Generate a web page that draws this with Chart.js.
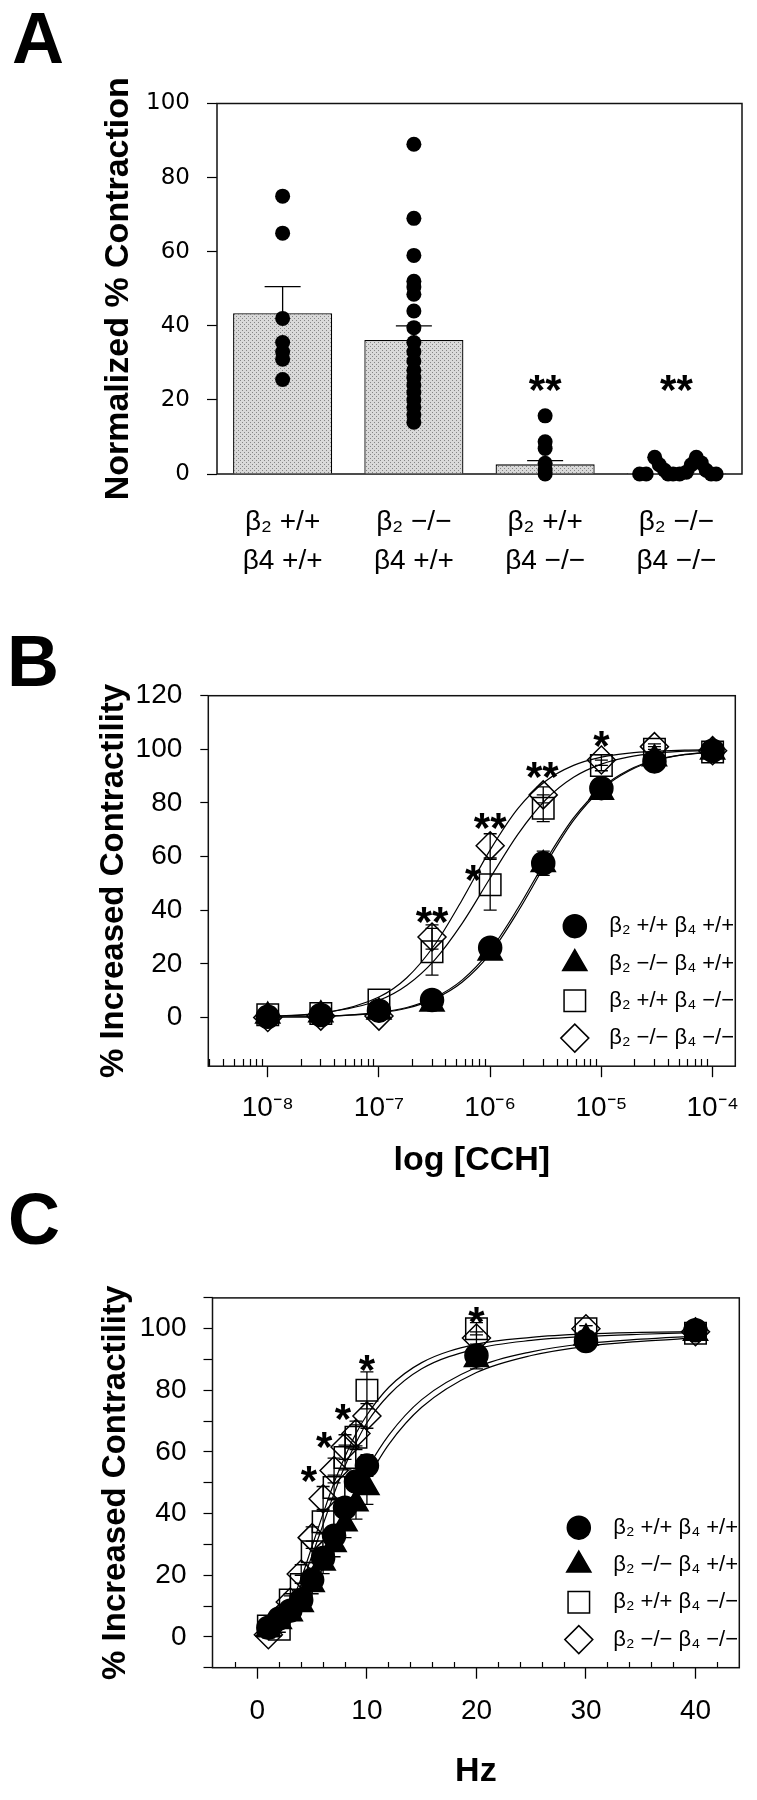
<!DOCTYPE html>
<html><head><meta charset="utf-8">
<script src="https://cdn.jsdelivr.net/npm/chart.js@4.4.0/dist/chart.umd.min.js"></script>
<style>
html,body{margin:0;padding:0;background:#fff;}
#wrap{position:relative;width:757px;height:1800px;overflow:hidden;background:#fff;}
canvas{position:absolute;left:0;}
.plabel{position:absolute;font:bold 72px "Liberation Sans",Arial,sans-serif;line-height:72px;color:#000;}
</style></head><body>
<div id="wrap">
<canvas id="cA" width="757" height="610" style="top:0"></canvas>
<canvas id="cB" width="757" height="590" style="top:610px"></canvas>
<canvas id="cC" width="757" height="600" style="top:1200px"></canvas>
<div class="plabel" style="top:2px;left:12px">A</div>
<div class="plabel" style="top:625px;left:7px">B</div>
<div class="plabel" style="top:1183px;left:8px">C</div>
</div>
<script>
// ---------- Panel A data ----------
const categoriesA = [['β₂ +/+', 'β4 +/+'], ['β₂ −/−', 'β4 +/+'], ['β₂ +/+', 'β4 −/−'], ['β₂ −/−', 'β4 −/−']];
const meanA = [43.4, 36.2, 2.6, 0.3];
const semA = [7.2, 3.8, 1.0, 0.2];
const dotsA1 = [75, 65, 42, 35.5, 33, 31, 25.5];
const dotsA2 = [89, 69, 59, 52, 50.5, 48.5, 44, 39.5, 35.5, 33, 30.5, 28, 26, 24, 22, 20, 18, 16, 14];
const dotsA3 = [15.7, 8.7, 6.9, 2.9, 1.1, 0];
const dotsA4 = [0, 0, 4.5, 2.5, 1, 0, 0, 0, 0.5, 2.5, 4.5, 3, 1, 0, 0];
const jitterA4 = [-0.28, -0.23, -0.165, -0.13, -0.09, -0.063, -0.025, 0.025, 0.076, 0.114, 0.152, 0.19, 0.227, 0.265, 0.303];
const catTicksA = [0, 1, 2, 3];
const yTicksA = [0, 20, 40, 60, 80, 100];
const starsA = [{x: 2, y: 25.4, t: '**'}, {x: 3, y: 25.4, t: '**'}];

// ---------- Panel B data ----------
const concB = [1e-8, 3e-8, 1e-7, 3e-7, 1e-6, 3e-6, 1e-5, 3e-5, 1e-4];
const circleB = [0.2, 0.9, 2.5, 6.5, 26, 57.5, 85.5, 95.5, 99.5];
const triangleB = [0.5, 1, 2, 5, 24, 57, 84, 96.5, 99];
const squareB = [1, 1.5, 6.5, 24.5, 49.5, 78, 94, 100, 99];
const diamondB = [0, 0.5, 0.5, 30, 64, 83, 96, 101, 99.5];
const semCircleB = [0, 0, 0, 1, 3, 4.5, 2, 1, 0.5];
const semTriangleB = [0, 0, 0, 1, 2, 3, 2, 1, 0.5];
const semSquareB = [0, 0, 0, 8.7, 9.5, 5, 2, 1, 0.5];
const semDiamondB = [0, 0, 0, 4.5, 4.5, 3, 2, 1, 0.5];
const curveXB = [1e-8, 3.16e-8, 1e-7, 1.78e-7, 3.16e-7, 5.62e-7, 1e-6, 1.78e-6, 3.16e-6, 5.62e-6, 1e-5, 1.78e-5, 3.16e-5, 5.62e-5, 1e-4];
const curveCircleB = [0.1, 0.4, 1.9, 3.7, 7.4, 14, 25, 40.8, 58.5, 74.4, 85.6, 92.4, 96.2, 98.1, 99.1];
const curveTriangleB = [0.1, 0.4, 1.7, 3.4, 6.9, 13.2, 23.8, 39.5, 57.2, 73.5, 85, 92, 96, 98, 99];
const curveSquareB = [0.4, 1.7, 6.4, 12, 21.4, 35.2, 52, 68.4, 81.2, 89.6, 94.5, 97.2, 98.6, 99.3, 99.6];
const curveDiamondB = [0.4, 1.6, 7.6, 14.8, 27, 44, 62.5, 78, 88.2, 94, 97.1, 98.6, 99.3, 99.7, 99.8];
const majorTicksB = [1e-8, 1e-7, 1e-6, 1e-5, 1e-4];
const tickLabelsB = ['10⁻⁸', '10⁻⁷', '10⁻⁶', '10⁻⁵', '10⁻⁴'];
const yTicksB = [0, 20, 40, 60, 80, 100, 120];
const starsB = [{x: 3e-7, y: 39.4, t: '**'}, {x: 7.05e-7, y: 55, t: '*'}, {x: 1e-6, y: 74.2, t: '**'}, {x: 2.94e-6, y: 93.5, t: '**'}, {x: 1e-5, y: 105, t: '*'}];

// ---------- Panel C data ----------
const freqC = [1, 2, 3, 4, 5, 6, 7, 8, 9, 10, 20, 30, 40];
const circleC = [3, 6, 8.5, 12, 18.5, 25.6, 32.8, 41.9, 50.4, 55.6, 91.3, 96, 99.5];
const triangleC = [2.5, 5, 7.5, 10.5, 17, 24, 30, 36.7, 43.2, 48.5, 90, 97, 98.5];
const squareC = [3.5, 2.5, 12, 17, 27.6, 37.4, 48.5, 58.2, 64.8, 80, 100, 100, 98.5];
const diamondC = [0.7, 6, 11.3, 20.4, 32.2, 44.8, 54, 61.6, 66, 71.7, 97, 100, 99];
const semCircleC = [1, 1, 1.5, 2, 2.5, 3, 3, 3, 3, 3.5, 2, 1, 0.5];
const semTriangleC = [1, 1, 1.5, 2, 3, 3.5, 4, 4.5, 5, 5.5, 3, 1, 0.5];
const semSquareC = [1, 1, 2, 3, 3.5, 4, 4, 4, 4, 6, 2, 1, 0.5];
const semDiamondC = [1, 1, 2, 3, 3.5, 4, 4, 4, 4, 4, 2, 1, 0.5];
const curveXC = [1, 2, 3, 4, 5, 6, 7, 8, 9, 10, 12, 15, 20, 25, 30, 35, 40];
const curveCircleC = [2.3, 3.7, 6.5, 11.5, 17.5, 25, 32.5, 40.5, 48, 54.5, 65.5, 77, 87.5, 92.5, 95.2, 96.6, 97.6];
const curveTriangleC = [2, 3.2, 5.6, 10, 15.5, 22.5, 29.5, 37, 44.5, 51, 62.5, 74.5, 85.8, 91.3, 94.3, 95.9, 97];
const curveSquareC = [2.2, 4, 9, 17, 26.5, 36.5, 46.5, 55.5, 63, 69.5, 78.5, 87, 93.5, 96.2, 97.5, 98.2, 98.7];
const curveDiamondC = [2.5, 5, 10.5, 19, 29.5, 40, 50, 58.5, 66, 72, 81, 89, 95, 97.2, 98.3, 98.8, 99.1];
const majorTicksC = [0, 10, 20, 30, 40];
const tickLabelsC = ['0', '10', '20', '30', '40'];
const yTicksC = [-10, 0, 10, 20, 30, 40, 50, 60, 70, 80, 90, 100, 110];
const yTickLabelsC = ['', '0', '', '20', '', '40', '', '60', '', '80', '', '100', ''];
const starsC = [{x: 4.7, y: 53.8, t: '*'}, {x: 6.1, y: 65, t: '*'}, {x: 7.8, y: 74.1, t: '*'}, {x: 10, y: 90, t: '*'}, {x: 20, y: 105.5, t: '*'}];

const legendLabels = ['β₂ +/+ β₄ +/+', 'β₂ −/− β₄ +/+', 'β₂ +/+ β₄ −/−', 'β₂ −/− β₄ −/−'];

// ---------- styles ----------
const FONT = '"Liberation Sans", Arial, Helvetica, sans-serif';
Chart.defaults.color = '#000';
Chart.defaults.font.family = FONT;
Chart.defaults.animation = false;
const CLEAR = 'rgba(0,0,0,0)';
const MARKS = [
  {style: 'circle', r: 11.5, fill: '#000'},
  {style: 'triangle', r: 14, fill: '#000'},
  {style: 'rect', r: 15.2, fill: CLEAR},
  {style: 'rectRot', r: 14, fill: CLEAR}
];

// ---------- plugins ----------
const framePlugin = {id: 'frame', beforeDatasetsDraw(chart) {
  const {ctx, chartArea: a} = chart;
  ctx.save(); ctx.strokeStyle = '#111'; ctx.lineWidth = 1.5;
  ctx.strokeRect(a.left, a.top, a.right - a.left, a.bottom - a.top);
  ctx.restore();
}};
const errPlugin = {id: 'errbars', beforeDatasetsDraw(chart) {
  const ctx = chart.ctx;
  chart.data.datasets.forEach((ds, i) => {
    if (!ds.sem) return;
    const meta = chart.getDatasetMeta(i);
    const ys = chart.scales[meta.yAxisID];
    ctx.save(); ctx.strokeStyle = '#000'; ctx.lineWidth = 1.3;
    meta.data.forEach((el, j) => {
      const s = ds.sem[j]; if (!s) return;
      const raw = ds.data[j]; const v = (typeof raw === 'object') ? raw.y : raw;
      const x = el.x;
      const yTop = ys.getPixelForValue(v + s);
      const yBot = ds.upOnly ? ys.getPixelForValue(v) : ys.getPixelForValue(v - s);
      const hw = (ds.capWidth || 13) / 2;
      ctx.beginPath();
      ctx.moveTo(x, yTop); ctx.lineTo(x, yBot);
      ctx.moveTo(x - hw, yTop); ctx.lineTo(x + hw, yTop);
      if (!ds.upOnly) { ctx.moveTo(x - hw, yBot); ctx.lineTo(x + hw, yBot); }
      ctx.stroke();
    });
    ctx.restore();
  });
}};
const starPlugin = {id: 'stars', afterDatasetsDraw(chart, args, opts) {
  if (!opts.items) return;
  const ctx = chart.ctx;
  const xs = chart.scales.x, ys = chart.scales.y;
  ctx.save(); ctx.fillStyle = '#000';
  ctx.font = 'bold 42px ' + FONT; ctx.textAlign = 'center'; ctx.textBaseline = 'alphabetic';
  opts.items.forEach(it => {
    ctx.fillText(it.t, xs.getPixelForValue(it.x), ys.getPixelForValue(it.y) + 24);
  });
  ctx.restore();
}};
const legendPlugin = {id: 'markLegend', afterDraw(chart, args, opts) {
  if (!opts.labels) return;
  const {ctx, chartArea: a} = chart;
  opts.labels.forEach((lab, i) => {
    const m = MARKS[i];
    const y = a.bottom + opts.firstRow + i * opts.rowGap;
    ctx.save();
    ctx.fillStyle = m.fill; ctx.strokeStyle = '#000'; ctx.lineWidth = 1.5;
    Chart.helpers.drawPoint(ctx, {pointStyle: m.style, radius: m.r, rotation: 0, borderWidth: 1.5}, a.right + opts.markerDx, y);
    ctx.fillStyle = '#000'; ctx.font = opts.font; ctx.textAlign = 'left'; ctx.textBaseline = 'middle';
    ctx.fillText(lab, a.right + opts.textDx, y);
    ctx.restore();
  });
}};

// ---------- Panel A ----------
const pat = document.createElement('canvas'); pat.width = 4; pat.height = 4;
const pctx = pat.getContext('2d');
pctx.fillStyle = '#d9d9d9'; pctx.fillRect(0, 0, 4, 4);
pctx.fillStyle = '#858585'; pctx.fillRect(0, 0, 1, 1); pctx.fillRect(2, 2, 1, 1);
const ctxA = document.getElementById('cA').getContext('2d');
const stipple = ctxA.createPattern(pat, 'repeat');

const dotsA = [];
[dotsA1, dotsA2, dotsA3].forEach((arr, g) => arr.forEach(v => dotsA.push({x: g, y: v})));
dotsA4.forEach((v, k) => dotsA.push({x: 3 + jitterA4[k], y: v}));
const barsA = meanA.map((v, i) => ({x: catTicksA[i], y: v}));

new Chart(ctxA, {
  type: 'bar',
  data: {datasets: [
    {type: 'scatter', data: dotsA, pointRadius: 7.5, pointHoverRadius: 7.5,
     backgroundColor: '#000', borderColor: '#000', borderWidth: 0, clip: false},
    {type: 'bar', data: barsA, backgroundColor: stipple, borderColor: '#000', grouped: false,
     borderWidth: 1.3, barPercentage: 0.755, categoryPercentage: 1, sem: semA, upOnly: true, capWidth: 36}
  ]},
  options: {
    responsive: false, animation: false,
    layout: {padding: {top: 103.5, left: 94, right: 15, bottom: 36}},
    scales: {
      x: {type: 'linear', min: -0.5, max: 3.5, offset: false,
          afterBuildTicks: s => { s.ticks = catTicksA.map(v => ({value: v})); },
          grid: {display: false, drawTicks: false, offset: false}, border: {display: false},
          ticks: {callback: (v, i) => categoriesA[i], font: {size: 28, lineHeight: 1.4}, padding: 28.4, maxRotation: 0, autoSkip: false},
          afterFit: s => { s.height = 100; }},
      y: {min: 0, max: 100,
          afterBuildTicks: s => { s.ticks = yTicksA.map(v => ({value: v})); },
          ticks: {font: {family: '"DejaVu Sans", sans-serif', size: 23}, padding: 17, autoSkip: false},
          grid: {drawOnChartArea: false, drawTicks: true, tickLength: 10, tickColor: '#000', tickWidth: 1.2},
          border: {display: false},
          title: {display: true, text: 'Normalized % Contraction', font: {size: 34, weight: 'bold'}},
          afterFit: s => { s.width = 123; }}
    },
    plugins: {legend: {display: false}, tooltip: {enabled: false}, stars: {items: starsA}}
  },
  plugins: [framePlugin, errPlugin, starPlugin]
});

// ---------- helpers for B and C ----------
function markerSets(xArr, series, sems) {
  return series.map((ys, i) => ({
    type: 'scatter', data: xArr.map((x, j) => ({x: x, y: ys[j]})),
    pointStyle: MARKS[i].style, pointRadius: MARKS[i].r, pointHoverRadius: MARKS[i].r,
    backgroundColor: MARKS[i].fill, borderColor: '#000', borderWidth: 1.5, sem: sems[i], clip: false
  }));
}
function curveSets(xArr, curves) {
  return curves.map(ys => ({
    type: 'line', data: xArr.map((x, j) => ({x: x, y: ys[j]})), pointRadius: 0, pointHoverRadius: 0,
    borderColor: '#000', borderWidth: 1.2, fill: false, cubicInterpolationMode: 'monotone'
  }));
}
const legendOpts = {labels: legendLabels, firstRow: -140, rowGap: 37.3, markerDx: -160.5, textDx: -126, font: '22px ' + FONT};

// ---------- Panel B ----------
const xMinB = 2.92e-9, xMaxB = 1.6e-4, yMinB = -18.2;
const minorTicksB = [];
[1e-9, 1e-8, 1e-7, 1e-6, 1e-5].forEach(d => { for (let k = 2; k <= 9; k++) { const v = k * d; if (v > xMinB && v < xMaxB) minorTicksB.push(v); } });

new Chart(document.getElementById('cB'), {
  type: 'scatter',
  data: {datasets: [
    ...markerSets(concB, [circleB, triangleB, squareB, diamondB], [semCircleB, semTriangleB, semSquareB, semDiamondB]),
    ...curveSets(curveXB, [curveCircleB, curveTriangleB, curveSquareB, curveDiamondB])
  ]},
  options: {
    responsive: false, animation: false,
    layout: {padding: {top: 85.7, left: 90.1, right: 21.7, bottom: 14.6}},
    scales: {
      x: {type: 'logarithmic', min: xMinB, max: xMaxB, position: 'bottom',
          afterBuildTicks: s => { s.ticks = majorTicksB.map(v => ({value: v})); },
          ticks: {callback: (v, i) => tickLabelsB[i], font: {size: 28}, padding: 14, maxRotation: 0, autoSkip: false},
          grid: {drawOnChartArea: false, drawTicks: true, tickLength: 11, tickColor: '#000', tickWidth: 1.3},
          border: {display: false},
          title: {display: true, text: 'log [CCH]', font: {size: 34, weight: 'bold'}},
          afterFit: s => { s.height = 119.2; }},
      xm: {type: 'logarithmic', axis: 'x', min: xMinB, max: xMaxB, position: {y: yMinB},
           afterBuildTicks: s => { s.ticks = minorTicksB.map(v => ({value: v})); },
           ticks: {display: false},
           grid: {drawOnChartArea: false, drawTicks: true, tickLength: -7, tickColor: '#000', tickWidth: 1.2},
           border: {display: false}},
      y: {min: yMinB, max: 120,
          afterBuildTicks: s => { s.ticks = yTicksB.map(v => ({value: v})); },
          ticks: {font: {size: 28}, padding: 18, autoSkip: false},
          grid: {drawOnChartArea: false, drawTicks: true, tickLength: 8, tickColor: '#000', tickWidth: 1.2},
          border: {display: false},
          title: {display: true, text: '% Increased Contractility', font: {size: 33, weight: 'bold'}},
          afterFit: s => { s.width = 118.2; }}
    },
    plugins: {legend: {display: false}, tooltip: {enabled: false}, stars: {items: starsB}, markLegend: legendOpts}
  },
  plugins: [framePlugin, errPlugin, starPlugin, legendPlugin]
});

// ---------- Panel C ----------
const xMinC = -4.1, xMaxC = 44;
const minorTicksC = [];
for (let v = -2; v < xMaxC; v += 2) { if (v % 10 !== 0) minorTicksC.push(v); }

new Chart(document.getElementById('cC'), {
  type: 'scatter',
  data: {datasets: [
    ...markerSets(freqC, [circleC, triangleC, squareC, diamondC], [semCircleC, semTriangleC, semSquareC, semDiamondC]),
    ...curveSets(curveXC, [curveCircleC, curveTriangleC, curveSquareC, curveDiamondC])
  ]},
  options: {
    responsive: false, animation: false,
    layout: {padding: {top: 97.9, left: 92.6, right: 17.7, bottom: 3.6}},
    scales: {
      x: {type: 'linear', min: xMinC, max: xMaxC, position: 'bottom',
          afterBuildTicks: s => { s.ticks = majorTicksC.map(v => ({value: v})); },
          ticks: {callback: (v, i) => tickLabelsC[i], font: {size: 28}, padding: 16.2, maxRotation: 0, autoSkip: false},
          grid: {drawOnChartArea: false, drawTicks: true, tickLength: 11, tickColor: '#000', tickWidth: 1.3},
          border: {display: false},
          title: {display: true, text: 'Hz', font: {size: 34, weight: 'bold'}},
          afterFit: s => { s.height = 128.7; }},
      xm: {type: 'linear', axis: 'x', min: xMinC, max: xMaxC, position: {y: -10},
           afterBuildTicks: s => { s.ticks = minorTicksC.map(v => ({value: v})); },
           ticks: {display: false},
           grid: {drawOnChartArea: false, drawTicks: true, tickLength: -6, tickColor: '#000', tickWidth: 1.2},
           border: {display: false}},
      y: {min: -10, max: 110,
          afterBuildTicks: s => { s.ticks = yTicksC.map(v => ({value: v})); },
          ticks: {callback: (v, i) => yTickLabelsC[i], font: {size: 28}, padding: 17, autoSkip: false},
          grid: {drawOnChartArea: false, drawTicks: true, tickLength: 9, tickColor: '#000', tickWidth: 1.2},
          border: {display: false},
          title: {display: true, text: '% Increased Contractility', font: {size: 33, weight: 'bold'}},
          afterFit: s => { s.width = 119.9; }}
    },
    plugins: {legend: {display: false}, tooltip: {enabled: false}, stars: {items: starsC}, markLegend: legendOpts}
  },
  plugins: [framePlugin, errPlugin, starPlugin, legendPlugin]
});
</script>
</body></html>
